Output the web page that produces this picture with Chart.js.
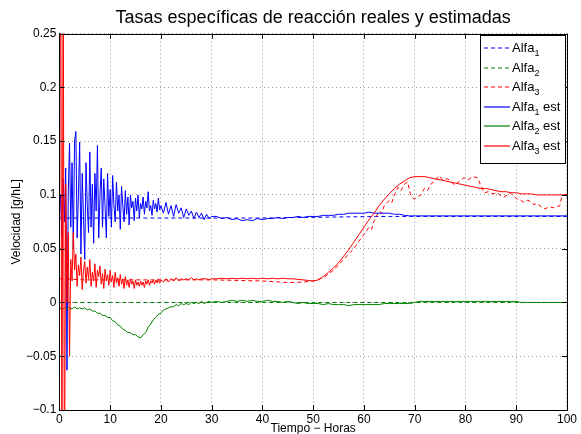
<!DOCTYPE html>
<html>
<head>
<meta charset="utf-8">
<script src="https://cdn.jsdelivr.net/npm/chart.js@4/dist/chart.umd.min.js"></script>
<style>
  html, body { margin: 0; background: #fff; }
</style>
</head>
<body>
<canvas id="grafico" width="581" height="434"></canvas>
<script>
// tiempos (horas) de las estimaciones ruidosas de Alfa1 y Alfa3
const tRuido = [0, 0.25, 0.5, 0.75, 1, 1.25, 1.5, 1.75, 2, 2.25, 2.5, 2.75, 3, 3.25, 3.5, 3.75,
  4, 4.25, 4.5, 4.75, 5, 5.25, 5.5, 5.75, 6, 6.25, 6.5, 6.75, 7, 7.25, 7.5, 7.75,
  8, 8.25, 8.5, 8.75, 9, 9.25, 9.5, 9.75, 10, 10.25, 10.5, 10.75, 11, 11.25, 11.5, 11.75,
  12, 12.25, 12.5, 12.75, 13, 13.25, 13.5, 13.75, 14, 14.25, 14.5, 14.75, 15, 15.25, 15.5, 15.75,
  16, 16.25, 16.5, 16.75, 17, 17.25, 17.5, 17.75, 18, 18.25, 18.5, 18.75, 19, 19.25, 19.5, 19.75, 20,
  20.5, 21, 21.5, 22, 22.5, 23, 23.5, 24, 24.5, 25, 25.5, 26, 26.5, 27, 27.5, 28, 28.5, 29, 29.5, 30,
  31, 32, 33, 34, 35, 36, 37, 38, 39, 40, 41, 42, 43, 44, 45, 46, 47, 48, 49, 50,
  51, 52, 53, 54, 55, 56, 57, 58, 59, 60, 61, 62, 63, 64, 65, 66, 67, 68, 69, 70,
  71, 72, 73, 74, 75, 76, 77, 78, 79, 80, 81, 82, 83, 84, 85, 86, 87, 88, 89, 90,
  91, 92, 93, 94, 95, 96, 97, 98, 99, 100];

const alfa1Est = [0.08, 0.1, 0.06, 0.115, 0.075, 0.125, -0.063, 0.1, 0.148, 0.07, 0.13, 0.05, 0.15, 0.159, 0.06, 0.1,
  0.149, 0.045, 0.12, 0.08, 0.04, 0.13, 0.09, 0.065, 0.14, 0.07, 0.11, 0.055, 0.12, 0.085, 0.146, 0.06,
  0.1, 0.125, 0.07, 0.115, 0.09, 0.06, 0.12, 0.08, 0.105, 0.07, 0.118, 0.09, 0.075, 0.112, 0.085, 0.1,
  0.068, 0.108, 0.09, 0.075, 0.104, 0.082, 0.098, 0.072, 0.1, 0.088, 0.094, 0.076, 0.097, 0.085, 0.1, 0.079,
  0.092, 0.087, 0.098, 0.082, 0.094, 0.088, 0.103, 0.085, 0.09, 0.081, 0.095, 0.087, 0.092, 0.084, 0.097, 0.086, 0.09,
  0.083, 0.093, 0.082, 0.09, 0.08, 0.091, 0.083, 0.088, 0.079, 0.087, 0.081, 0.085, 0.078, 0.084, 0.079, 0.083, 0.077, 0.082, 0.078, 0.08,
  0.08, 0.078, 0.079, 0.077, 0.078, 0.076, 0.077, 0.076, 0.078, 0.077, 0.078, 0.078, 0.079, 0.078, 0.079, 0.079, 0.08, 0.079, 0.08, 0.08,
  0.08, 0.081, 0.081, 0.081, 0.082, 0.082, 0.083, 0.083, 0.083, 0.083, 0.084, 0.083, 0.083, 0.083, 0.083, 0.082, 0.082, 0.081, 0.0805, 0.0805,
  0.0805, 0.0805, 0.0805, 0.0805, 0.0805, 0.0805, 0.0805, 0.0805, 0.0805, 0.0805, 0.0805, 0.0805, 0.0805, 0.0805, 0.0805, 0.0805, 0.0805, 0.0805, 0.0805, 0.0805,
  0.0805, 0.0805, 0.0805, 0.0805, 0.0805, 0.0805, 0.0805, 0.0805, 0.0805, 0.0805];

const alfa3Est = [0.03, 0.4, -0.2, 0.35, -0.2, 0.11, 0, 0.065, -0.05, 0.04, 0.02, 0.065, 0.03, 0.045, 0.015, 0.035,
  0.025, 0.042, 0.012, 0.03, 0.038, 0.018, 0.033, 0.022, 0.04, 0.015, 0.028, 0.02, 0.036, 0.014, 0.03, 0.024,
  0.034, 0.017, 0.027, 0.013, 0.031, 0.02, 0.026, 0.016, 0.03, 0.019, 0.025, 0.014, 0.028, 0.018, 0.023, 0.015,
  0.026, 0.017, 0.022, 0.013, 0.024, 0.016, 0.021, 0.014, 0.022, 0.017, 0.02, 0.013, 0.021, 0.016, 0.019, 0.015,
  0.02, 0.016, 0.019, 0.014, 0.02, 0.017, 0.021, 0.016, 0.02, 0.018, 0.021, 0.017, 0.021, 0.018, 0.022, 0.018, 0.021,
  0.019, 0.022, 0.019, 0.022, 0.02, 0.023, 0.02, 0.022, 0.021, 0.022, 0.021, 0.023, 0.021, 0.022, 0.021, 0.022, 0.022, 0.022, 0.021, 0.022,
  0.022, 0.0225, 0.022, 0.0225, 0.022, 0.0225, 0.022, 0.0225, 0.022, 0.0225, 0.022, 0.0225, 0.022, 0.0225, 0.022, 0.022, 0.0215, 0.021, 0.0205, 0.02,
  0.021, 0.024, 0.028, 0.032, 0.037, 0.043, 0.049, 0.056, 0.063, 0.07, 0.077, 0.083, 0.09, 0.096, 0.101, 0.106, 0.11, 0.113, 0.116, 0.117,
  0.117, 0.117, 0.116, 0.115, 0.114, 0.113, 0.112, 0.111, 0.11, 0.109, 0.108, 0.107, 0.106, 0.106, 0.105, 0.104, 0.103, 0.103, 0.102, 0.102,
  0.101, 0.101, 0.101, 0.1, 0.1, 0.1, 0.1, 0.1, 0.1, 0.1];

// tiempos (horas) de la estimacion de Alfa2
const tAlfa2Est = [0, 0.25, 0.5, 0.75, 1, 1.25, 1.5, 1.75, 2,
  2.5, 3, 3.5, 4, 4.5, 5, 5.5, 6, 6.5, 7, 7.5, 8, 8.5, 9, 9.5, 10,
  10.5, 11, 11.5, 12, 12.5, 13, 13.5, 14, 14.5, 15, 15.5, 16, 16.5, 17, 17.5, 18,
  18.5, 19, 19.5, 20, 20.5, 21, 21.5, 22, 22.5, 23, 23.5, 24, 24.5, 25,
  25.5, 26, 26.5, 27, 27.5, 28, 28.5, 29, 29.5, 30,
  31, 32, 33, 34, 35, 36, 37, 38, 39, 40, 41, 42, 43, 44, 45, 46, 47, 48, 49, 50,
  51, 52, 53, 54, 55, 56, 57, 58, 59, 60, 61, 62, 63, 64, 65, 66, 67, 68, 69, 70,
  71, 72, 73, 74, 75, 76, 77, 78, 79, 80, 81, 82, 83, 84, 85, 86, 87, 88, 89, 90,
  91, 92, 93, 94, 95, 96, 97, 98, 99, 100];

const alfa2Est = [-0.004, -0.006, -0.005, -0.006, -0.005, -0.005, -0.006, -0.005, -0.005,
  -0.006, -0.004, -0.006, -0.005, -0.006, -0.005, -0.007, -0.006, -0.008, -0.008, -0.01, -0.01, -0.012, -0.012, -0.014, -0.014,
  -0.017, -0.018, -0.021, -0.022, -0.025, -0.026, -0.028, -0.028, -0.03, -0.03, -0.032, -0.033, -0.03, -0.028, -0.023, -0.02,
  -0.016, -0.014, -0.011, -0.01, -0.007, -0.006, -0.005, -0.004, -0.004, -0.002, -0.003, -0.001, -0.002, -0.001,
  -0.002, 0, -0.001, 0, -0.001, 0.001, -0.001, 0, 0.001, 0,
  0.001, 0, 0.001, 0.002, 0.001, 0.002, 0.001, 0.002, 0.001, 0.001, 0.002, 0.001, 0.001, 0, 0.001, 0, -0.001, 0, -0.001, -0.001,
  -0.001, -0.002, -0.001, -0.002, -0.002, -0.002, -0.003, -0.002, -0.002, -0.002, -0.002, -0.002, -0.002, -0.001, -0.001, -0.001, -0.001, -0.001, -0.001, 0,
  0.001, 0.001, 0.001, 0.001, 0.001, 0.001, 0.001, 0.001, 0.001, 0.001, 0.001, 0.001, 0.001, 0.001, 0.001, 0.001, 0.001, 0.001, 0.001, 0.001,
  0, 0, 0, 0, 0, 0, 0, 0, 0, 0];

// series reales
const tAlfa1 = [0, 40, 55, 65, 100];
const alfa1 = [0.0785, 0.0785, 0.0795, 0.08, 0.08];

const tAlfa2 = [0, 100];
const alfa2 = [0, 0];

const tAlfa3 = [0, 5, 10, 20, 30, 40, 45, 48, 50, 52, 54, 56, 57, 58, 59, 60, 61, 61.5, 62, 63, 63.5, 64, 65, 65.5,
  66, 66.7, 67.3, 68, 68.6, 69.2, 69.9, 70.5, 71.2, 71.9, 72.5, 73.2, 74, 74.8, 75.5, 76.5, 77.2, 78, 78.8, 79.7,
  80.5, 81.4, 82.4, 83, 83.7, 84.5, 85.4, 86.3, 87, 87.6, 88.3, 88.8, 89.5, 90.2, 90.9, 91.5, 92.2, 92.8, 93.5,
  94.1, 94.9, 95.7, 96.5, 97.4, 98, 98.6, 99, 99.5, 100];
const alfa3 = [0.022, 0.021, 0.021, 0.021, 0.021, 0.02, 0.0185, 0.019, 0.02, 0.023, 0.03, 0.04, 0.045, 0.05, 0.057, 0.063, 0.07, 0.068, 0.076, 0.085, 0.083, 0.09, 0.095, 0.093,
  0.1, 0.107, 0.104, 0.11, 0.112, 0.1, 0.096, 0.098, 0.1, 0.106, 0.104, 0.11, 0.113, 0.118, 0.114, 0.115, 0.112, 0.109, 0.113, 0.116,
  0.114, 0.117, 0.116, 0.109, 0.102, 0.103, 0.101, 0.102, 0.099, 0.098, 0.1, 0.102, 0.099, 0.096, 0.095, 0.093, 0.095, 0.094, 0.091,
  0.092, 0.089, 0.087, 0.089, 0.088, 0.089, 0.09, 0.099, 0.1, 0.101];

const azul = '#0000ff', verde = '#008000', rojo = '#ff0000';

function puntos(ts, vs) {
  return ts.map((t, i) => ({ x: t, y: vs[i] }));
}

function serie(label, ts, vs, color, dash, order) {
  return {
    label: label,
    data: puntos(ts, vs),
    borderColor: color,
    borderWidth: 1,
    borderDash: dash,
    pointRadius: 0,
    fill: false,
    tension: 0,
    order: order
  };
}

const familia = '"Liberation Sans", Arial, sans-serif';

// leyenda dentro del area, con subindices
const leyenda = {
  id: 'leyenda',
  afterDraw(chart) {
    const ctx = chart.ctx;
    const a = chart.chartArea;
    const w = 85, h = 128;
    const x0 = Math.round(a.right) - w - 2, y0 = Math.round(a.top) + 1;
    ctx.save();
    ctx.fillStyle = '#fff';
    ctx.fillRect(x0, y0, w, h);
    ctx.strokeStyle = '#000';
    ctx.lineWidth = 1;
    ctx.setLineDash([]);
    ctx.strokeRect(x0 + 0.5, y0 + 0.5, w, h);
    chart.data.datasets.forEach((ds, i) => {
      const y = Math.round(y0 + 13 + i * 19.6);
      ctx.save();
      ctx.lineWidth = 1.2;
      ctx.strokeStyle = ds.borderColor;
      ctx.setLineDash(ds.borderDash);
      ctx.beginPath();
      ctx.moveTo(x0 + 4, y);
      ctx.lineTo(x0 + 30, y);
      ctx.stroke();
      ctx.restore();
      const m = ds.label.match(/^(.*)_(\d)(.*)$/);
      ctx.fillStyle = '#000';
      ctx.textBaseline = 'alphabetic';
      let x = x0 + 32;
      ctx.font = '13px ' + familia;
      ctx.fillText(m[1], x, y + 4);
      x += ctx.measureText(m[1]).width;
      ctx.font = '9px ' + familia;
      ctx.fillText(m[2], x, y + 8);
      x += ctx.measureText(m[2]).width;
      ctx.font = '13px ' + familia;
      ctx.fillText(m[3], x, y + 4);
    });
    ctx.restore();
  }
};

// marco y marcas hacia dentro, estilo MATLAB
const marco = {
  id: 'marco',
  afterDatasetsDraw(chart) {
    const ctx = chart.ctx;
    const a = chart.chartArea;
    const sx = chart.scales.x, sy = chart.scales.y;
    ctx.save();
    ctx.strokeStyle = '#000';
    ctx.lineWidth = 1;
    ctx.setLineDash([]);
    ctx.beginPath();
    sx.ticks.forEach(t => {
      const px = Math.round(sx.getPixelForValue(t.value)) + 0.5;
      ctx.moveTo(px, a.bottom); ctx.lineTo(px, a.bottom - 5);
      ctx.moveTo(px, a.top); ctx.lineTo(px, a.top + 5);
    });
    sy.ticks.forEach(t => {
      const py = Math.round(sy.getPixelForValue(t.value)) + 0.5;
      ctx.moveTo(a.left, py); ctx.lineTo(a.left + 5, py);
      ctx.moveTo(a.right, py); ctx.lineTo(a.right - 5, py);
    });
    ctx.stroke();
    ctx.strokeRect(Math.round(a.left) + 0.5, Math.round(a.top) + 0.5,
      Math.round(a.right - a.left), Math.round(a.bottom - a.top));
    ctx.restore();
  }
};

const fuente = { family: familia, size: 12, lineHeight: 1 };

new Chart(document.getElementById('grafico'), {
  type: 'line',
  data: {
    datasets: [
      serie('Alfa_1', tAlfa1, alfa1, azul, [4, 3], 6),
      serie('Alfa_2', tAlfa2, alfa2, verde, [4, 3], 5),
      serie('Alfa_3', tAlfa3, alfa3, rojo, [4, 3], 4),
      serie('Alfa_1 est', tRuido, alfa1Est, azul, [], 3),
      serie('Alfa_2 est', tAlfa2Est, alfa2Est, verde, [], 2),
      serie('Alfa_3 est', tRuido, alfa3Est, rojo, [], 1)
    ]
  },
  options: {
    responsive: false,
    animation: false,
    layout: { padding: { left: 3, right: 4, top: 0, bottom: -4 } },
    plugins: {
      legend: { display: false },
      tooltip: { enabled: false },
      title: {
        display: true,
        fullSize: false,
        text: 'Tasas específicas de reacción reales y estimadas',
        color: '#000',
        font: { family: familia, size: 18, weight: 'normal' },
        padding: { top: 7, bottom: 5 }
      }
    },
    scales: {
      x: {
        type: 'linear',
        min: 0,
        max: 100,
        ticks: { stepSize: 10, color: '#000', font: fuente, padding: 4, maxRotation: 0 },
        grid: { color: '#999', drawTicks: false },
        border: { display: true, color: '#000', dash: [1, 3] },
        title: { display: true, text: 'Tiempo − Horas', color: '#000', font: fuente, padding: { top: -7, bottom: 3 } }
      },
      y: {
        min: -0.1,
        max: 0.25,
        ticks: {
          stepSize: 0.05,
          color: '#000',
          font: fuente,
          padding: 3,
          callback: v => {
            const r = Math.round(v * 100) / 100;
            return (r < 0 ? '−' : '') + String(Math.abs(r));
          }
        },
        grid: { color: '#999', drawTicks: false },
        border: { display: true, color: '#000', dash: [1, 3] },
        title: { display: true, text: 'Velocidad [g/hL]', color: '#000', font: fuente, padding: { top: 8, bottom: 0 } }
      }
    }
  },
  plugins: [marco, leyenda]
});
</script>
</body>
</html>
